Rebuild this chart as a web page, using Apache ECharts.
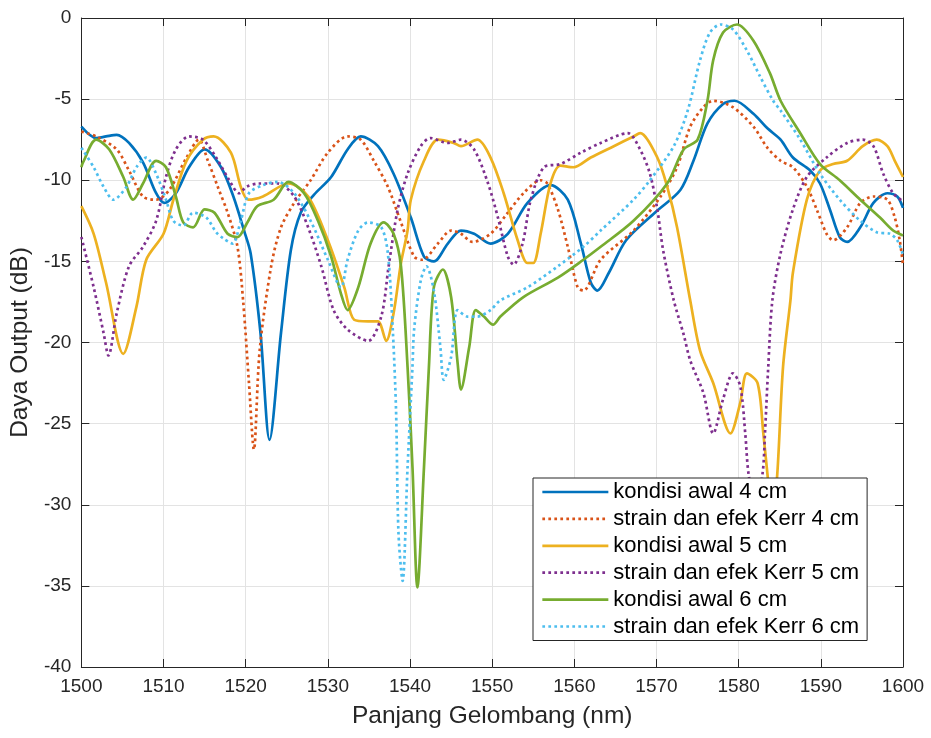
<!DOCTYPE html>
<html>
<head>
<meta charset="utf-8">
<title>Daya Output vs Panjang Gelombang</title>
<script src="https://cdn.jsdelivr.net/npm/echarts@6/dist/echarts.min.js"></script>
<style>
  html, body { margin: 0; padding: 0; background: #ffffff; }
  #chart { width: 931px; height: 738px; }
</style>
</head>
<body>
<div id="chart"></div>
<script>
// Spectra: [wavelength (nm), output power (dB)]
const awal4 = [
  [1500,-6.7],[1501.8,-7.4],[1503,-7.3],[1504.3,-7.2],[1505.8,-7.7],[1507.5,-8.9],[1509.1,-10.8],[1510.1,-11.4],
  [1511.5,-10.8],[1513.1,-9.2],[1515,-8.1],[1517,-9.2],[1518.5,-11.0],[1519.8,-13.1],[1520.6,-14.5],[1521.8,-19.4],
  [1522.9,-26.0],[1524.3,-19.4],[1525.5,-14.3],[1526.7,-12.0],[1528.3,-10.9],[1530.4,-9.8],[1532.4,-8.1],[1534,-7.3],
  [1536.1,-7.9],[1538,-9.6],[1540.1,-12.3],[1541.7,-14.7],[1542.9,-15.0],[1544.6,-13.9],[1546.2,-13.1],[1547.8,-13.3],
  [1549.8,-13.9],[1551.9,-13.3],[1554.3,-11.4],[1557.1,-10.3],[1559.2,-11.2],[1560.8,-13.9],[1562,-16.3],[1562.8,-16.8],
  [1564.2,-15.7],[1566.3,-13.7],[1569.8,-12.0],[1572.9,-10.6],[1574.5,-8.8],[1576.2,-6.5],[1578.1,-5.3],[1579.5,-5.1],
  [1581.8,-5.9],[1583.5,-6.8],[1585.1,-7.5],[1586.6,-8.6],[1588.7,-9.4],[1589.9,-10.2],[1591.1,-11.8],[1592.3,-13.5],
  [1593.2,-13.8],[1594.8,-12.9],[1596.4,-11.4],[1598.1,-10.8],[1599.3,-11.0],[1600,-11.7]
];
const kerr4 = [
  [1500,-7.0],[1501.8,-7.3],[1504.3,-8.1],[1505.8,-9.4],[1507.5,-11.0],[1509.1,-11.2],[1510.7,-10.6],[1512.8,-8.6],
  [1514.3,-7.5],[1515.4,-8.8],[1516.6,-10.4],[1517.8,-12.0],[1519,-14.1],[1519.7,-17.5],[1520.4,-22.5],[1521,-26.6],
  [1521.7,-20.5],[1523.1,-15.3],[1524.3,-12.9],[1525.9,-11.4],[1527.9,-10.0],[1530,-8.3],[1532.4,-7.3],[1534,-7.5],
  [1535.6,-8.8],[1537.3,-10.4],[1538.9,-12.6],[1540.5,-14.7],[1541.5,-14.9],[1543.4,-13.9],[1545,-13.1],[1546.2,-13.3],
  [1547.6,-13.8],[1549.8,-13.3],[1551.9,-12.0],[1553.8,-10.8],[1555.9,-10.0],[1556.7,-10.2],[1558,-11.8],[1559.2,-14.1],
  [1560.4,-16.6],[1561.1,-16.8],[1563.2,-14.9],[1567.2,-13.1],[1570.5,-11.0],[1572.5,-9.2],[1574.1,-6.7],[1575.7,-5.5],
  [1576.9,-5.1],[1579.3,-5.5],[1581.8,-6.7],[1583.5,-8.0],[1585.1,-8.8],[1586.6,-9.2],[1588.3,-10.4],[1589.5,-11.8],
  [1590.7,-13.3],[1591.5,-13.7],[1593.2,-12.9],[1594.8,-11.4],[1596.4,-11.0],[1598.1,-11.2],[1599,-12.3],[1599.6,-13.7],
  [1600,-15.2]
];
const awal5 = [
  [1500,-11.6],[1501.5,-13.3],[1503,-16.3],[1505.1,-20.7],[1506.7,-17.8],[1507.9,-14.9],[1510,-13.3],[1511.2,-11.2],
  [1512.8,-8.8],[1514.8,-7.5],[1516.1,-7.3],[1518.2,-8.3],[1519.4,-10.4],[1520.3,-11.2],[1522.1,-11.0],[1525.2,-10.2],
  [1527.6,-11.0],[1530,-13.7],[1532,-16.6],[1533.2,-18.6],[1534.9,-18.7],[1536.1,-18.7],[1537.1,-19.9],[1538,-18.2],
  [1538.9,-15.1],[1539.7,-13.1],[1540.1,-11.2],[1541.7,-8.8],[1543.4,-7.5],[1545.3,-7.7],[1546.2,-7.9],[1548.2,-7.5],
  [1549.8,-8.6],[1551.4,-10.8],[1553.1,-13.7],[1554.3,-15.1],[1555,-15.1],[1555.9,-13.3],[1557.1,-10.2],[1558.3,-9.1],
  [1559.9,-9.2],[1562,-8.6],[1564.8,-7.9],[1567.2,-7.3],[1568,-7.1],[1570.1,-8.6],[1571.3,-10.4],[1572.5,-12.9],
  [1574.1,-17.4],[1575.3,-20.5],[1576.9,-22.5],[1579,-25.6],[1580.2,-23.7],[1581,-21.9],[1582.3,-22.5],[1583,-25.6],
  [1583.5,-28.1],[1584.1,-31.0],[1584.7,-28.1],[1585.4,-21.5],[1586.3,-17.4],[1586.6,-15.7],[1588.3,-11.2],[1589.9,-9.4],
  [1591.5,-9.0],[1593.2,-8.8],[1595.1,-7.9],[1596.8,-7.5],[1598.1,-7.9],[1599,-8.8],[1600,-9.8]
];
const kerr5 = [
  [1500,-13.5],[1501.5,-16.6],[1502.7,-19.4],[1503.3,-20.8],[1504.3,-18.2],[1505.8,-15.3],[1507.5,-14.1],[1509.1,-12.5],
  [1510.3,-9.8],[1511.5,-8.1],[1513.1,-7.3],[1514.8,-7.5],[1516.4,-8.6],[1518,-10.0],[1519.2,-10.8],[1520.1,-10.4],
  [1521.6,-10.2],[1523.9,-10.2],[1525.9,-11.0],[1527.6,-12.9],[1529.2,-15.3],[1530.7,-18.0],[1532.4,-19.2],[1534.9,-19.9],
  [1536.5,-18.4],[1537.4,-15.3],[1538.5,-11.8],[1539.7,-9.6],[1541.3,-7.9],[1542.5,-7.4],[1544.6,-7.7],[1546.2,-7.5],
  [1547.8,-8.1],[1549.5,-10.2],[1550.7,-12.3],[1551.9,-14.7],[1552.6,-15.2],[1553.7,-13.9],[1554.7,-11.2],[1556.3,-9.2],
  [1558.3,-9.0],[1560.8,-8.3],[1563.2,-7.7],[1566.5,-7.1],[1568,-8.1],[1569.2,-9.6],[1570.1,-11.8],[1570.8,-14.3],
  [1572.1,-17.4],[1573.3,-19.5],[1574.1,-21.1],[1575.7,-23.1],[1576.9,-25.6],[1578.1,-23.5],[1579.3,-21.9],[1580.2,-22.7],
  [1580.8,-25.6],[1581.2,-28.1],[1582,-30.0],[1582.9,-28.1],[1583.2,-25.6],[1583.6,-21.5],[1584.1,-17.4],[1585.1,-14.5],
  [1586.6,-11.8],[1588.3,-9.8],[1590.7,-8.6],[1593.2,-7.7],[1595.1,-7.5],[1596.4,-7.9],[1597.6,-9.6],[1598.8,-10.8],
  [1600,-11.3]
];
const awal6 = [
  [1500,-9.2],[1500.2,-8.9],[1501.8,-7.5],[1503.4,-8.1],[1505.1,-9.8],[1506.3,-11.2],[1507.5,-10.2],[1509.1,-8.8],
  [1510.3,-9.2],[1511.5,-11.0],[1512.4,-12.6],[1513.6,-12.9],[1515,-11.8],[1516.2,-12.0],[1517.8,-13.3],[1519,-13.5],
  [1520.2,-12.6],[1521.4,-11.6],[1523.4,-11.2],[1525.2,-10.1],[1527.1,-10.8],[1528.8,-12.5],[1530.4,-14.7],[1531.6,-17.0],
  [1532.4,-18.0],[1533.7,-16.6],[1535.2,-13.9],[1536.8,-12.6],[1538,-13.3],[1538.9,-15.3],[1539.7,-21.5],[1540.3,-27.7],
  [1540.9,-35.1],[1541.7,-27.7],[1542.3,-21.5],[1542.9,-16.6],[1544,-15.5],[1545,-17.2],[1545.8,-21.3],[1546.2,-22.9],
  [1547.2,-20.3],[1548,-18.0],[1549,-18.4],[1550.1,-18.9],[1551,-18.4],[1553.8,-17.2],[1558,-16.0],[1561.1,-14.9],
  [1563.2,-14.1],[1567.2,-12.5],[1571.3,-10.2],[1573.3,-8.1],[1575,-7.5],[1576.2,-5.1],[1576.9,-2.6],[1578.1,-0.9],
  [1579.8,-0.4],[1581.8,-1.4],[1583.8,-3.4],[1585.1,-5.1],[1587.5,-7.1],[1589.9,-9.0],[1592.3,-10.0],[1594.8,-11.2],
  [1597.2,-12.3],[1598.8,-13.1],[1600,-13.4]
];
const kerr6 = [
  [1500,-8.0],[1501.5,-9.2],[1502.7,-10.4],[1503.9,-11.2],[1505.5,-10.4],[1506.7,-9.2],[1507.9,-8.6],[1509.1,-9.6],
  [1510.3,-11.2],[1511.2,-12.5],[1512.4,-12.8],[1513.6,-12.0],[1515.2,-12.3],[1516.4,-13.2],[1517.3,-13.6],[1518.4,-13.9],
  [1519.4,-12.5],[1520.4,-10.8],[1522.1,-10.3],[1523.9,-10.1],[1525.9,-10.8],[1527.9,-12.5],[1530,-14.9],[1531.6,-16.6],
  [1532.4,-14.9],[1533.7,-13.1],[1534.9,-12.6],[1536.5,-12.9],[1537.3,-14.5],[1537.9,-19.2],[1538.3,-24.2],[1538.6,-31.8],
  [1539.1,-34.7],[1539.7,-27.7],[1540.3,-21.5],[1540.5,-19.2],[1541.3,-16.2],[1542,-15.3],[1542.9,-16.8],[1543.7,-20.3],
  [1544.1,-22.3],[1545,-20.9],[1545.8,-18.0],[1547,-18.4],[1548.2,-18.4],[1549.8,-18.0],[1551,-17.4],[1554.3,-16.6],
  [1558,-15.3],[1561.1,-14.1],[1563.2,-13.1],[1567.2,-11.2],[1569.2,-10.0],[1572.1,-7.9],[1573.8,-5.7],[1575.3,-2.6],
  [1576.5,-0.9],[1577.8,-0.4],[1579.3,-0.7],[1581,-2.0],[1582.6,-3.6],[1584.2,-5.1],[1585.1,-5.7],[1587.5,-7.5],
  [1589.9,-9.6],[1592.3,-11.2],[1594.8,-12.5],[1596.8,-13.2],[1598.4,-13.3],[1599.3,-13.7],[1600,-14.6]
];

const seriesNames = [
  'kondisi awal 4 cm',
  'strain dan efek Kerr 4 cm',
  'kondisi awal 5 cm',
  'strain dan efek Kerr 5 cm',
  'kondisi awal 6 cm',
  'strain dan efek Kerr 6 cm'
];
const seriesData = [awal4, kerr4, awal5, kerr5, awal6, kerr6];
const seriesColors = ['#0072BD', '#D95319', '#EDB120', '#7E2F8E', '#77AC30', '#4DBEEE'];
const seriesDotted = [false, true, false, true, false, true];

const xRange = [1500, 1600];
const yRange = [-40, 0];

const FONT = '"Liberation Sans", Arial, Helvetica, sans-serif';
const AXIS_COLOR = '#262626';

const chart = echarts.init(document.getElementById('chart'), null, { renderer: 'canvas' });

const tickStyle = { show: true, inside: true, length: 8, lineStyle: { color: AXIS_COLOR, width: 1 } };
const axisLine = { show: true, onZero: false, lineStyle: { color: AXIS_COLOR, width: 1 } };
const gridLine = { show: true, lineStyle: { color: '#e3e3e3', width: 1 } };

const lineStyleFor = i => ({
  color: seriesColors[i],
  width: 2.7,
  type: seriesDotted[i] ? [2.7, 3.3] : 'solid',
  cap: 'butt'
});

const option = {
  backgroundColor: '#ffffff',
  animation: false,
  grid: { left: 80, right: 28, top: 18, bottom: 71, containLabel: false },
  xAxis: [
    {
      type: 'value', min: xRange[0], max: xRange[1], interval: 10,
      name: 'Panjang Gelombang (nm)', nameLocation: 'middle', nameGap: 37,
      nameTextStyle: { fontFamily: FONT, fontSize: 24.5, color: AXIS_COLOR },
      axisLine: axisLine, axisTick: tickStyle, splitLine: gridLine,
      axisLabel: { fontFamily: FONT, fontSize: 19, color: AXIS_COLOR, margin: 10, formatter: v => String(v) }
    },
    {
      type: 'value', position: 'top', min: xRange[0], max: xRange[1], interval: 10,
      axisLine: axisLine, axisTick: tickStyle, splitLine: { show: false },
      axisLabel: { show: false }
    }
  ],
  yAxis: [
    {
      type: 'value', min: yRange[0], max: yRange[1], interval: 5,
      name: 'Daya Output (dB)', nameLocation: 'middle', nameGap: 47,
      nameTextStyle: { fontFamily: FONT, fontSize: 24.5, color: AXIS_COLOR },
      axisLine: axisLine, axisTick: tickStyle, splitLine: gridLine,
      axisLabel: { fontFamily: FONT, fontSize: 19, color: AXIS_COLOR, margin: 10, formatter: v => String(v) }
    },
    {
      type: 'value', position: 'right', min: yRange[0], max: yRange[1], interval: 5,
      axisLine: axisLine, axisTick: tickStyle, splitLine: { show: false },
      axisLabel: { show: false }
    }
  ],
  legend: {
    orient: 'vertical',
    left: 533, top: 478,
    padding: [3, 8, 3, 8],
    itemWidth: 66, itemHeight: 20, itemGap: 4.9,
    backgroundColor: '#ffffff',
    borderColor: AXIS_COLOR, borderWidth: 1,
    textStyle: { fontFamily: FONT, fontSize: 22, lineHeight: 21, color: '#000000' },
    data: seriesNames.map((n, i) => ({ name: n, itemStyle: { opacity: 0 }, lineStyle: lineStyleFor(i) }))
  },
  series: seriesNames.map((name, i) => ({
    name: name,
    type: 'line',
    xAxisIndex: 0, yAxisIndex: 0,
    data: seriesData[i],
    smooth: 0.3,
    showSymbol: false,
    symbol: 'none',
    clip: true,
    lineStyle: lineStyleFor(i),
    itemStyle: { color: seriesColors[i] },
    emphasis: { disabled: true }
  }))
};

chart.setOption(option);
</script>
</body>
</html>
